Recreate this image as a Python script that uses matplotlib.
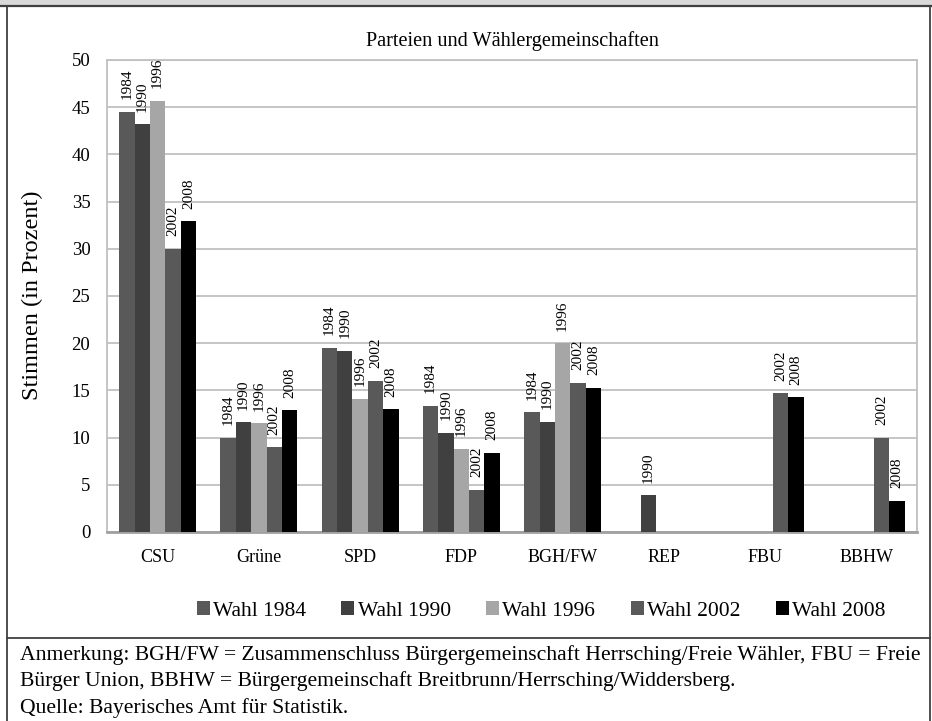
import numpy as np
import matplotlib.pyplot as plt
from matplotlib.lines import Line2D
from matplotlib.patches import Rectangle

plt.rcParams['font.family'] = ['Liberation Serif', 'DejaVu Serif']

# Daten
parteien = ['CSU', 'Grüne', 'SPD', 'FDP', 'BGH/FW', 'REP', 'FBU', 'BBHW']
jahre = ['1984', '1990', '1996', '2002', '2008']
wahl_1984 = [44.5, 10.0, 19.5, 13.4, 12.7, np.nan, np.nan, np.nan]
wahl_1990 = [43.2, 11.6, 19.2, 10.5, 11.7, 3.9, np.nan, np.nan]
wahl_1996 = [45.7, 11.5, 14.1, 8.8, 20.0, np.nan, np.nan, np.nan]
wahl_2002 = [30.0, 9.0, 16.0, 4.5, 15.8, np.nan, 14.7, 10.0]
wahl_2008 = [32.9, 12.9, 13.0, 8.4, 15.3, np.nan, 14.3, 3.3]
farben = ['#595959', '#404040', '#a6a6a6', '#595959', '#000000']

W, H = 932, 721
fig = plt.figure(figsize=(W / 100, H / 100), dpi=100)

# Rahmen und Kopfzeile
fig.patches.append(Rectangle((0, 1 - 5 / H), 1, 5 / H, transform=fig.transFigure,
                             facecolor='#d9d9d9', edgecolor='none'))
def linie(x0, y0, x1, y1, c='#404040', lw=1.3):
    fig.add_artist(Line2D([x0 / W, x1 / W], [1 - y0 / H, 1 - y1 / H], color=c, lw=lw))
linie(0, 5.5, W, 5.5, c='#404040', lw=1.6)
linie(7, 5.5, 7, H)
linie(930, 5.5, 930, H)
linie(7, 638, 930, 638)

ax = fig.add_axes([107 / W, 1 - 532 / H, (917 - 107) / W, (532 - 60) / H])

x = np.arange(len(parteien))
w = 0.152
serien = [wahl_1984, wahl_1990, wahl_1996, wahl_2002, wahl_2008]
for j, werte in enumerate(serien):
    pos = x + (j - 2) * w
    ax.bar(pos, werte, w, color=farben[j], label='Wahl ' + jahre[j], zorder=3)
    for xi, v in zip(pos, werte):
        if not np.isnan(v):
            ax.annotate(jahre[j], (xi, v), xytext=(0, 9), textcoords='offset points',
                        rotation=90, ha='center', va='bottom', fontsize=11, zorder=4)

ax.set_xlim(-0.5, len(parteien) - 0.5)
ax.set_ylim(0, 50)
ax.set_yticks(range(0, 51, 5))
ax.set_xticks(x)
ax.set_xticklabels(parteien, fontsize=13)
ax.tick_params(axis='y', labelsize=13.5, length=0, pad=12)
ax.tick_params(axis='x', length=0, pad=12)
ax.grid(axis='y', color='#c0c0c0', lw=1.3, zorder=0)
for s in ax.spines.values():
    s.set_color('#c0c0c0')
    s.set_linewidth(1.3)
ax.spines['bottom'].set_color('#a0a0a0')
ax.spines['bottom'].set_linewidth(2)

ax.set_title('Parteien und Wählergemeinschaften', fontsize=14.6, pad=10)
fig.text(32 / W, 1 - 295 / H, 'Stimmen (in Prozent)', rotation=90, fontsize=17.5,
         ha='center', va='center')

fig.legend(loc='center', bbox_to_anchor=(541 / W, 1 - 611 / H), ncol=5, frameon=False,
           prop={'family': 'Liberation Serif', 'size': 15.5},
           handlelength=0.6, handleheight=0.6, handletextpad=0.15,
           columnspacing=1.65)

anm = ['Anmerkung: BGH/FW = Zusammenschluss Bürgergemeinschaft Herrsching/Freie Wähler, FBU = Freie',
       'Bürger Union, BBHW = Bürgergemeinschaft Breitbrunn/Herrsching/Widdersberg.',
       'Quelle: Bayerisches Amt für Statistik.']
for i, t in enumerate(anm):
    fig.text(20 / W, 1 - (655 + 26.5 * i) / H, t, fontsize=15.6, ha='left', va='center')

fig.savefig('out.png', dpi=100)
